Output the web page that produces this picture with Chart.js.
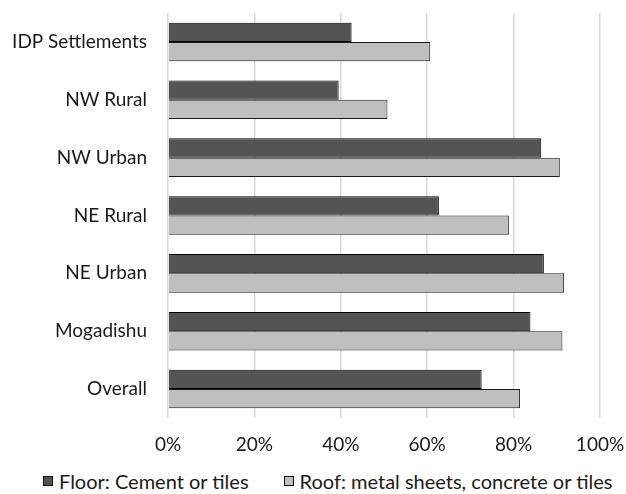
<!DOCTYPE html>
<html>
<head>
<meta charset="utf-8">
<script src="https://cdn.jsdelivr.net/npm/chart.js@4"></script>
<style>
  html, body { margin: 0; padding: 0; background: #fff; overflow: hidden; }
  #page { position: relative; width: 626px; height: 494px; }
  #wrap { position: absolute; left: 0; top: 0; width: 626px; height: 460px; }
  #legend {
    position: absolute; left: 43px; top: 470px; height: 22px;
    display: flex; align-items: center;
    font-family: Lato, "Open Sans", sans-serif; font-size: 20px; line-height: 22px; color: #1a1a1a;
    white-space: nowrap;
  }
  #legend .item { display: flex; align-items: center; }
  #legend .item + .item { margin-left: 35px; }
  #legend .box { width: 10px; height: 10px; border: 1px solid #111; box-sizing: border-box; margin-right: 6px; }
</style>
</head>
<body>
<div id="page">
  <div id="wrap"><canvas id="housing-chart"></canvas></div>
  <div id="legend"></div>
</div>
<script>
// Data
const categories = ["IDP Settlements", "NW Rural", "NW Urban", "NE Rural", "NE Urban", "Mogadishu", "Overall"];
const floorValues = [0.425, 0.395, 0.864, 0.627, 0.870, 0.839, 0.726];
const roofValues = [0.607, 0.508, 0.907, 0.789, 0.917, 0.913, 0.815];
const xTicks = [0, 0.2, 0.4, 0.6, 0.8, 1.0];

const font = "Lato, 'Open Sans', sans-serif";
const textColor = "#1a1a1a";

const ctx = document.getElementById("housing-chart").getContext("2d");

const chart = new Chart(ctx, {
  type: "bar",
  data: {
    labels: categories,
    datasets: [
      {
        label: "Floor: Cement or tiles",
        data: floorValues,
        backgroundColor: "#545454",
        borderColor: "#000",
        borderWidth: 1,
      },
      {
        label: "Roof: metal sheets, concrete or tiles",
        data: roofValues,
        backgroundColor: "#bfbfbf",
        borderColor: "#1a1a1a",
        borderWidth: 1,
      },
    ],
  },
  options: {
    indexAxis: "y",
    responsive: true,
    maintainAspectRatio: false,
    animation: false,
    layout: { padding: { top: 13, right: 26, left: 9, bottom: 0 } },
    datasets: {
      bar: { categoryPercentage: 0.667, barPercentage: 1.0 },
    },
    scales: {
      x: {
        min: 0,
        max: 1,
        afterBuildTicks: (scale) => {
          scale.ticks = xTicks.map((v) => ({ value: v }));
        },
        afterFit: (scale) => {
          scale.height = 42;
          scale.paddingLeft = 0;
          scale.paddingRight = 0;
        },
        ticks: {
          callback: (v) => Math.round(v * 100) + "%",
          color: textColor,
          font: { family: font, size: 19 },
          padding: 15,
          maxRotation: 0,
        },
        grid: {
          color: "#d9d9d9",
          lineWidth: 1.5,
          drawTicks: false,
        },
        border: { display: false },
      },
      y: {
        afterFit: (scale) => {
          scale.width = 159;
          scale.paddingTop = 0;
          scale.paddingBottom = 0;
        },
        ticks: {
          color: textColor,
          font: { family: font, size: 19 },
          padding: 21,
        },
        grid: { display: false, drawTicks: false },
        border: { display: false },
      },
    },
    plugins: {
      legend: { display: false },
      tooltip: { enabled: false },
    },
  },
});

// Legend built from the chart's datasets
const legendEl = document.getElementById("legend");
chart.data.datasets.forEach((ds) => {
  const item = document.createElement("div");
  item.classList.add("item");
  item.innerHTML = `<span class="box" style="background:${ds.backgroundColor}"></span><span>${ds.label}</span>`;
  legendEl.appendChild(item);
});
</script>
</body>
</html>
